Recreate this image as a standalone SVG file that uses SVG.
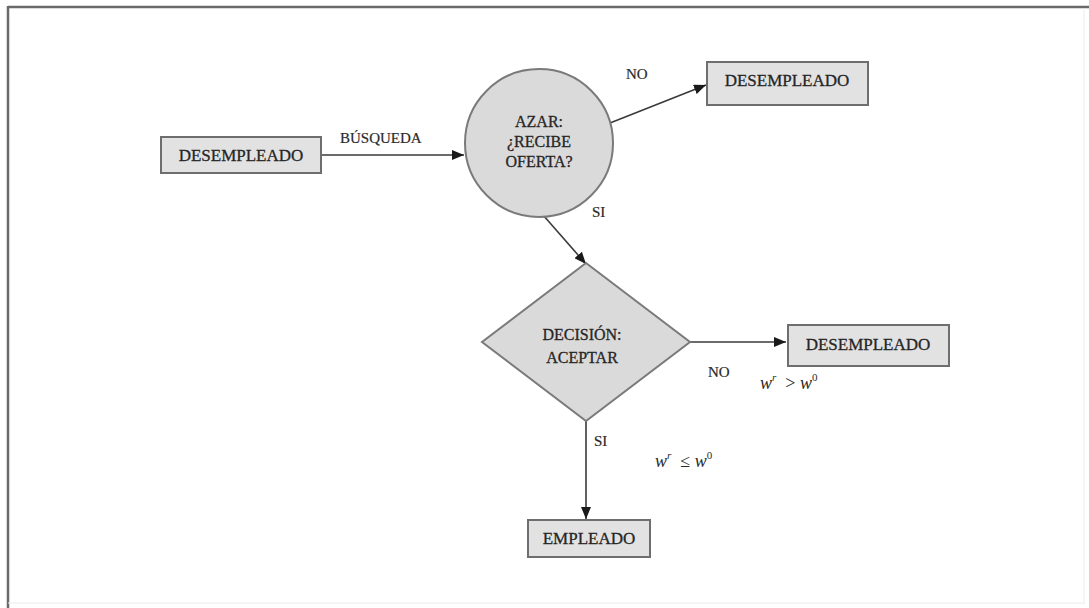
<svg xmlns="http://www.w3.org/2000/svg" width="1089" height="608" viewBox="0 0 1089 608">
<style>
.box{fill:#e2e2e2;stroke:#6e6e6e;stroke-width:2}
.shape{fill:#dadada;stroke:#7a7a7a;stroke-width:2}
.t{font-family:"Liberation Serif","Times New Roman",serif;font-size:17px;fill:#262626;stroke:#262626;stroke-width:0.3;text-anchor:middle}
.tc{font-size:16px}
.lbl{font-family:"Liberation Serif","Times New Roman",serif;font-size:15px;fill:#2a2a2a;stroke:#2a2a2a;stroke-width:0.2}
.math{font-family:"Liberation Serif","Times New Roman",serif;font-size:18px;fill:#2a2a2a}
.conn{stroke:#3a3a3a;stroke-width:1.6;fill:none;marker-end:url(#ah)}
</style>
<defs>
<marker id="ah" viewBox="0 0 12 10" refX="12" refY="5" markerWidth="12" markerHeight="10" markerUnits="userSpaceOnUse" orient="auto">
<path d="M0,0 L12,5 L0,10 z" fill="#1a1a1a"/>
</marker>
</defs>
<rect width="1089" height="608" fill="#ffffff"/>
<g id="frame">
<line x1="8" y1="7" x2="1089" y2="7" stroke="#6a6a6a" stroke-width="2.5"/>
<line x1="8" y1="6" x2="8" y2="608" stroke="#6a6a6a" stroke-width="2.5"/>
<line x1="1084" y1="8" x2="1084" y2="604" stroke="#ececec" stroke-width="1"/>
<line x1="8" y1="603" x2="1084" y2="603" stroke="#ececec" stroke-width="1"/>
</g>
<g id="connectors">
<line class="conn" x1="321" y1="155" x2="464" y2="155"/>
<line class="conn" x1="610" y1="123" x2="706" y2="85"/>
<line class="conn" x1="543" y1="215" x2="586" y2="264"/>
<line class="conn" x1="690" y1="342" x2="786" y2="342"/>
<line class="conn" x1="586" y1="421" x2="586" y2="519"/>
</g>
<g id="labels">
<text class="lbl" x="340" y="143">BÚSQUEDA</text>
<text class="lbl" x="626" y="79">NO</text>
<text class="lbl" x="592" y="217">SI</text>
<text class="lbl" x="708" y="377">NO</text>
<text class="lbl" x="594" y="446">SI</text>
<text class="math" x="760" y="389"><tspan font-style="italic">w</tspan><tspan font-style="italic" font-size="11" dy="-8">r</tspan><tspan dy="8"> &#160;&gt; </tspan><tspan font-style="italic">w</tspan><tspan font-size="11" dy="-8">0</tspan></text>
<text class="math" x="655" y="467"><tspan font-style="italic">w</tspan><tspan font-style="italic" font-size="11" dy="-8">r</tspan><tspan dy="8"> &#160;≤ </tspan><tspan font-style="italic">w</tspan><tspan font-size="11" dy="-8">0</tspan></text>
</g>
<g id="desempleado-inicio">
<rect class="box" x="161" y="137" width="160" height="36"/>
<text class="t" x="241" y="161">DESEMPLEADO</text>
</g>
<g id="azar">
<circle class="shape" cx="539" cy="143" r="74"/>
<text class="t tc" x="539" y="127">AZAR:</text>
<text class="t tc" x="539" y="147">¿RECIBE</text>
<text class="t tc" x="539" y="167">OFERTA?</text>
</g>
<g id="desempleado-no-oferta">
<rect class="box" x="707" y="62" width="161" height="43"/>
<text class="t" x="787" y="86">DESEMPLEADO</text>
</g>
<g id="decision">
<polygon class="shape" points="586,263 690,342 586,421 482,342"/>
<text class="t tc" x="582" y="340">DECISIÓN:</text>
<text class="t tc" x="582" y="363">ACEPTAR</text>
</g>
<g id="desempleado-rechaza">
<rect class="box" x="788" y="325" width="161" height="41"/>
<text class="t" x="868" y="350">DESEMPLEADO</text>
</g>
<g id="empleado">
<rect class="box" x="528" y="520" width="122" height="37"/>
<text class="t" x="589" y="544">EMPLEADO</text>
</g>
</svg>
